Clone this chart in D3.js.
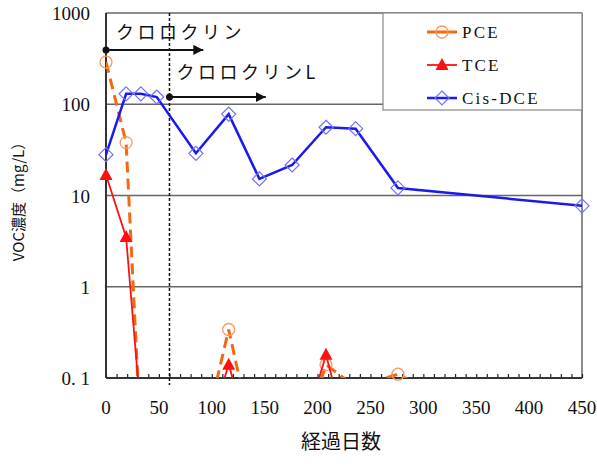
<!DOCTYPE html>
<html>
<head>
<meta charset="utf-8">
<script src="https://cdn.jsdelivr.net/npm/d3@7"></script>
<style>
  body { margin: 0; background: #fff; }
  text { fill: #111; }
</style>
</head>
<body>
<div class="d3-container"></div>
<script>
// sampling days and concentrations (mg/L); values under 0.1 are below the plot
const days = [0, 19, 33, 48, 85, 116, 145, 176, 208, 236, 276, 450];
const pce = [290, 38, 0.02, 0.01, 0.01, 0.34, 0.01, 0.01, 0.14, 0.08, 0.11, 0.01];
const tce = [16.8, 3.5, 0.04, 0.01, 0.01, 0.14, 0.01, 0.01, 0.18, 0.01, 0.01, 0.01];
const cisDce = [28, 130, 130, 120, 29, 78, 15.2, 21.6, 56, 54, 12.1, 7.7];

const xTicks = [0, 50, 100, 150, 200, 250, 300, 350, 400, 450];
const yTicks = [0.1, 1, 10, 100, 1000];
const yTickLabels = ["0. 1", "1", "10", "100", "1000"];

// injection periods: start day, arrow end day, level
const eventNames = ["クロロクリン", "クロロクリンL"];
const eventStart = [0, 60];
const eventEnd = [92, 151];
const eventLevel = [394, 120];

const width = 597;
const height = 466;
const margin = {top: 13, bottom: 88, left: 106, right: 15};

const svg = d3.select(".d3-container")
  .append("svg")
  .attr("width", width)
  .attr("height", height);

const x = d3.scaleLinear()
  .domain([0, 450])
  .range([margin.left, width - margin.right]);

const y = d3.scaleLog()
  .domain([0.1, 1000])
  .range([height - margin.bottom, margin.top]);

const serif = "'Liberation Serif', 'DejaVu Serif', serif";
const jp = "'Noto Sans CJK JP', sans-serif";

svg.append("defs").append("clipPath")
  .attr("id", "plot")
  .append("rect")
  .attr("x", x(0)).attr("y", y(1000))
  .attr("width", x(450) - x(0)).attr("height", y(0.1) - y(1000));

const arrow = svg.select("defs").append("marker")
  .attr("id", "arrow")
  .attr("viewBox", "0 0 10 10")
  .attr("refX", 10).attr("refY", 5)
  .attr("markerWidth", 5).attr("markerHeight", 5)
  .attr("orient", "auto");
arrow.append("path").attr("d", "M0,0L10,5L0,10Z").attr("fill", "#111");

// grid lines
svg.append("g")
  .selectAll("line")
  .data([1, 10, 100, 1000])
  .join("line")
  .attr("x1", x(0)).attr("x2", x(450))
  .attr("y1", d => y(d)).attr("y2", d => y(d))
  .attr("stroke", "#666").attr("stroke-width", 1.5);

svg.append("line")
  .attr("x1", x(450)).attr("x2", x(450))
  .attr("y1", y(1000)).attr("y2", y(0.1))
  .attr("stroke", "#666").attr("stroke-width", 1.5);

// minor ticks on the bottom axis
svg.append("g")
  .attr("transform", `translate(0, ${y(0.1)})`)
  .call(d3.axisBottom(x).tickValues(d3.range(0, 451, 10)).tickSize(-4).tickFormat(""))
  .call(g => g.select(".domain").remove())
  .call(g => g.selectAll("line").attr("stroke", "#222").attr("stroke-width", 1.2));

// axis lines
svg.append("line")
  .attr("x1", x(0)).attr("x2", x(450))
  .attr("y1", y(0.1)).attr("y2", y(0.1))
  .attr("stroke", "#333").attr("stroke-width", 2);
svg.append("line")
  .attr("x1", x(0)).attr("x2", x(0))
  .attr("y1", y(1000)).attr("y2", y(0.1))
  .attr("stroke", "#333").attr("stroke-width", 2);

// tick labels
svg.append("g")
  .selectAll("text")
  .data(xTicks)
  .join("text")
  .attr("x", d => x(d))
  .attr("y", y(0.1) + 36)
  .attr("text-anchor", "middle")
  .attr("font-family", serif)
  .attr("font-size", 19)
  .text(d => d);

svg.append("g")
  .selectAll("text")
  .data(yTicks)
  .join("text")
  .attr("x", 90)
  .attr("y", d => y(d) + 7)
  .attr("text-anchor", "end")
  .attr("font-family", serif)
  .attr("font-size", 19)
  .text((d, i) => yTickLabels[i]);

svg.append("text")
  .attr("x", (x(0) + x(450)) / 2 - 3)
  .attr("y", 449)
  .attr("text-anchor", "middle")
  .attr("font-family", jp)
  .attr("font-size", 20)
  .text("経過日数");

svg.append("text")
  .attr("transform", `translate(24, ${198}) rotate(-90)`)
  .attr("text-anchor", "middle")
  .attr("font-family", jp)
  .attr("font-size", 15)
  .text("VOC濃度（mg/L）");

// dosing start line
svg.append("line")
  .attr("x1", x(eventStart[1])).attr("x2", x(eventStart[1]))
  .attr("y1", y(1000)).attr("y2", y(0.1) + 7)
  .attr("stroke", "#111").attr("stroke-width", 1.5)
  .attr("stroke-dasharray", "3,2");

// event arrows and labels
eventNames.forEach((name, i) => {
  const g = svg.append("g");
  g.append("line")
    .attr("x1", x(eventStart[i])).attr("x2", x(eventEnd[i]))
    .attr("y1", y(eventLevel[i])).attr("y2", y(eventLevel[i]))
    .attr("stroke", "#111").attr("stroke-width", 2)
    .attr("marker-end", "url(#arrow)");
  g.append("circle")
    .attr("cx", x(eventStart[i])).attr("cy", y(eventLevel[i]))
    .attr("r", 3.5).attr("fill", "#111");
  g.append("text")
    .attr("x", x(eventStart[i]) + (i === 0 ? 10 : 7))
    .attr("y", y(eventLevel[i]) - (i === 0 ? 11 : 18))
    .attr("font-family", jp)
    .attr("font-size", 18)
    .attr("letter-spacing", 3.5)
    .attr("fill", i === 0 ? "#111" : "#444")
    .text(name);
});

const series = [
  {name: "PCE", values: pce, color: "#f26a10", width: 3, dash: "11,6", shape: "circle"},
  {name: "TCE", values: tce, color: "#ff1010", width: 1.8, dash: null, shape: "triangle"},
  {name: "Cis-DCE", values: cisDce, color: "#1a1aee", width: 2.5, dash: null, shape: "diamond"},
];

const line = d3.line()
  .x(d => x(d.day))
  .y(d => y(d.v));

function drawMarker(sel, s) {
  if (s.shape === "circle") {
    sel.append("circle").attr("r", 6)
      .attr("fill", "none").attr("stroke", "#f79a60").attr("stroke-width", 1.3);
  } else if (s.shape === "triangle") {
    sel.append("path").attr("d", "M0,-7L6.5,5L-6.5,5Z").attr("fill", s.color);
  } else {
    sel.append("path").attr("d", "M0,-7L7,0L0,7L-7,0Z")
      .attr("fill", "none").attr("stroke", "#7070ff").attr("stroke-width", 1.2);
  }
}

const plot = svg.append("g");
series.forEach(s => {
  const pts = days.map((day, i) => ({day, v: s.values[i]}));
  plot.append("path")
    .datum(pts)
    .attr("clip-path", "url(#plot)")
    .attr("d", line)
    .attr("fill", "none")
    .attr("stroke", s.color)
    .attr("stroke-width", s.width)
    .attr("stroke-dasharray", s.dash);
  plot.append("g")
    .selectAll("g")
    .data(pts.filter(d => d.v >= 0.1))
    .join("g")
    .attr("transform", d => `translate(${x(d.day)}, ${y(d.v)})`)
    .each(function() { drawMarker(d3.select(this), s); });
});

// legend
const legend = svg.append("g");
legend.append("rect")
  .attr("x", 383).attr("y", y(1000))
  .attr("width", x(450) - 383).attr("height", 97)
  .attr("fill", "#fff").attr("stroke", "#888").attr("stroke-width", 1.2);

series.forEach((s, i) => {
  const row = legend.append("g").attr("transform", `translate(0, ${32 + i * 33})`);
  row.append("line")
    .attr("x1", 427).attr("x2", 457)
    .attr("stroke", s.color).attr("stroke-width", s.width);
  drawMarker(row.append("g").attr("transform", "translate(442, 0)"), s);
  row.append("text")
    .attr("x", 462).attr("y", 6)
    .attr("font-family", serif)
    .attr("font-size", 17)
    .attr("letter-spacing", 2.2)
    .text(s.name);
});
</script>
</body>
</html>
